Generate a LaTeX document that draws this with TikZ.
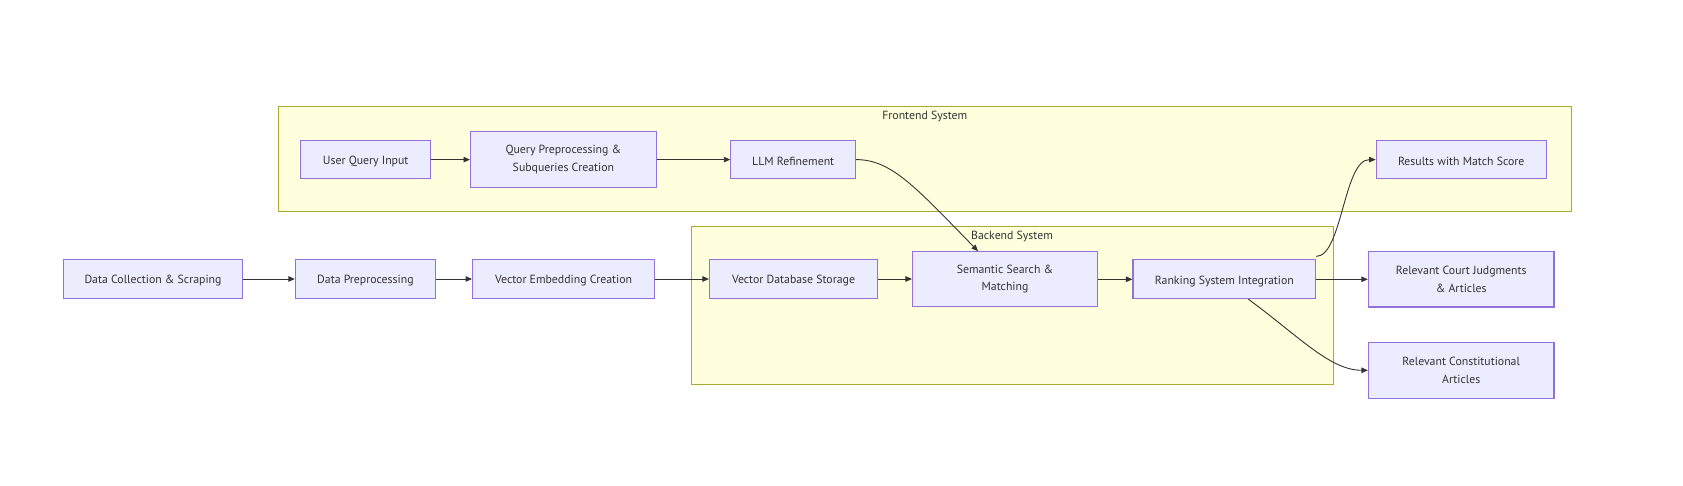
\documentclass[tikz,border=0pt]{standalone}
\usepackage{fontspec}
\setmainfont{PT Sans}
\usetikzlibrary{arrows.meta}
\definecolor{nodefill}{HTML}{ECECFF}
\definecolor{nodeborder}{HTML}{9370DB}
\definecolor{clfill}{HTML}{FFFFDE}
\definecolor{clborder}{HTML}{AAAA33}
\definecolor{textc}{HTML}{333333}
\definecolor{edgec}{HTML}{333333}
\begin{document}
\begin{tikzpicture}[x=1pt,y=-1pt,
  box/.style={draw=nodeborder, fill=nodefill, line width=1.1pt, text=textc,
    font=\fontsize{11.8}{17.3}\selectfont, align=center, inner sep=0pt,
    execute at begin node={\rule{0pt}{12.4pt}}},
  cluster/.style={draw=clborder, fill=clfill, line width=1pt},
  cltitle/.style={text=textc, font=\fontsize{11.8}{14}\selectfont, inner sep=0pt},
  edge/.style={draw=edgec, line width=0.9pt, -{Triangle[length=6.5pt,width=5.5pt]}}]
\useasboundingbox (0,0) rectangle (1683,486);
\fill[white] (0,0) rectangle (1683,486);
% clusters
\draw[cluster] (278,106.5) rectangle (1571.5,212);
\node[cltitle] (fetitle) at (924.75,116.3) {Frontend System};
\draw[cluster] (691.5,226.3) rectangle (1333,384.3);
\node[cltitle] (betitle) at (1012,236.3) {Backend System};
% nodes
\node[box, minimum width=179pt, minimum height=39.4pt] (dc) at (153,279) {Data Collection \& Scraping};
\node[box, minimum width=140pt, minimum height=39.4pt] (dp) at (365.4,279) {Data Preprocessing};
\node[box, minimum width=182pt, minimum height=39.4pt] (ve) at (563.6,279) {Vector Embedding Creation};
\node[box, minimum width=168pt, minimum height=39.4pt] (vdb) at (793.5,279) {Vector Database Storage};
\node[box, minimum width=185pt, minimum height=55pt] (sem) at (1005,279.2) {Semantic Search \&\\Matching};
\node[box, minimum width=182.6pt, minimum height=38.7pt] (rank) at (1224.3,279.3) {Ranking System Integration};
\node[box, minimum width=185.6pt, minimum height=55.3pt] (court) at (1461.2,279.3) {Relevant Court Judgments\\\& Articles};
\node[box, minimum width=185.6pt, minimum height=56pt] (const) at (1461.2,370.3) {Relevant Constitutional\\Articles};
\node[box, minimum width=170pt, minimum height=38.7pt] (res) at (1461.2,159.6) {Results with Match Score};
\node[box, minimum width=130pt, minimum height=38.7pt] (uq) at (365.7,159.6) {User Query Input};
\node[box, minimum width=185.7pt, minimum height=55.6pt] (qp) at (563.4,159.5) {Query Preprocessing \&\\Subqueries Creation};
\node[box, minimum width=124.7pt, minimum height=38.7pt] (llm) at (793.2,159.6) {LLM Refinement};
% edges
\draw[edge] (dc.east) -- (dp.west);
\draw[edge] (dp.east) -- (ve.west);
\draw[edge] (ve.east) -- (vdb.west);
\draw[edge] (vdb.east) -- (sem.west |- vdb.east);
\draw[edge] (sem.east |- rank.west) -- (rank.west);
\draw[edge] (rank.east) -- (court.west);
\draw[edge] (uq.east) -- (qp.west |- uq.east);
\draw[edge] (qp.east |- llm.west) -- (llm.west);
\draw[edge] (llm.east) .. controls +(35,0) and +(-63,-64.7) .. ([xshift=-27pt]sem.north);
\draw[edge] ([yshift=3pt]rank.north east) .. controls +(26,0) and +(-32,0) .. (res.west);
\draw[edge] ([xshift=24pt]rank.south) .. controls +(50,36.5) and +(-38,0) .. (const.west);
\end{tikzpicture}
\end{document}
